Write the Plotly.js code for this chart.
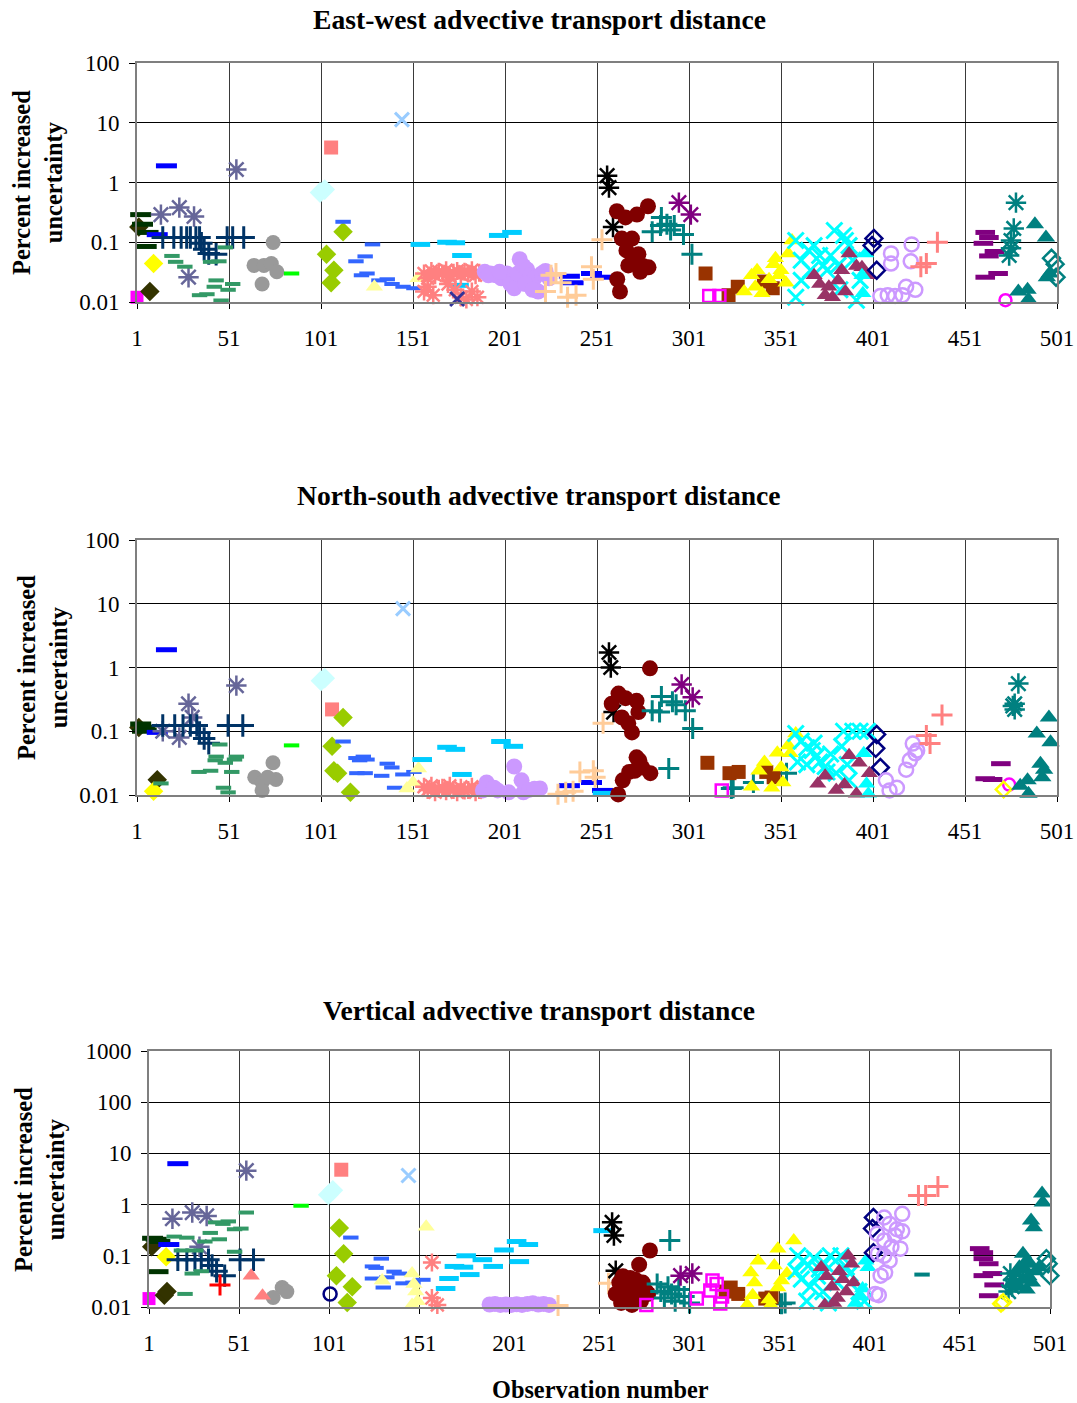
<!DOCTYPE html>
<html>
<head>
<meta charset="utf-8">
<script src="https://cdn.plot.ly/plotly-3.0.1.min.js"></script>
<style>html,body{margin:0;padding:0;background:#fff;}#chart{width:1077px;height:1403px;}</style>
</head>
<body>
<div id="chart"></div>
<script>
// ---------- text ----------
const panelTitles = ['East-west advective transport distance','North-south advective transport distance','Vertical advective transport distance'];
const yTitle = 'Percent increased<br>uncertainty';
const xTitle = 'Observation number';
const xTickVals = [1,51,101,151,201,251,301,351,401,451,501];
const yTickVals12 = [0.01,0.1,1,10,100];
const yTickText12 = ['0.01','0.1','1','10','100'];
const yTickVals3 = [0.01,0.1,1,10,100,1000];
const yTickText3 = ['0.01','0.1','1','10','100','1000'];

// ---------- data: [observation number, percent increased uncertainty] ----------
const magentaSq_ew = [[1,0.012]];
const magentaSq_ns = [];
const magentaSq_vt = [[1,0.0146]];

const oliveDia_ew = [[2,0.18],[8,0.015]];
const oliveDia_ns = [[2,0.115],[12,0.0174]];
const oliveDia_vt = [[2.5,0.15],[9.5,0.017],[11,0.02]];

const dkGreenDash_ew = [[3,0.29],[4,0.2],[7,0.146],[6,0.085]];
const dkGreenDash_ns = [[3,0.13],[5,0.115],[6,0.105],[4,0.1]];
const dkGreenDash_vt = [[3,0.22],[5,0.21],[7,0.19],[6,0.049]];

const yellowDia_ew = [[10,0.044]];
const yellowDia_ns = [[10,0.0114]];
const yellowDia_vt = [[10.5,0.096]];

const blueDash_ew = [[17,1.9],[12,0.134],[236,0.027],[238,0.021],[248,0.03],[253,0.026]];
const blueDash_ns = [[17,1.9],[12,0.096],[236,0.014],[248,0.0157],[254,0.0118]];
const blueDash_vt = [[17,6.3],[12,0.166]];

const slateAst_ew = [[14,0.29],[24,0.38],[32,0.27],[29,0.026],[55,1.65]];
const slateAst_ns = [[55,0.52],[29,0.27],[31,0.165],[24,0.08],[15,0.1]];
const slateAst_vt = [[55,4.6],[14,0.53],[25,0.7],[33,0.6],[29,0.15]];

const navyPlus_ew = [[15,0.12],[21,0.12],[25,0.12],[28,0.12],[30,0.12],[33,0.12],[35,0.12],[36,0.096],[37.5,0.076],[40,0.065],[44,0.063],[50,0.12],[53,0.12],[59,0.12]];
const navyPlus_ns = [[15,0.123],[21.5,0.123],[26,0.123],[30,0.123],[33.5,0.123],[35,0.096],[37.5,0.077],[40,0.065],[50.5,0.123],[58.5,0.123]];
const navyPlus_vt = [[17,0.084],[22,0.084],[26.5,0.084],[30,0.084],[34,0.084],[36,0.065],[38.5,0.05],[43,0.041],[51.5,0.084],[59,0.084]];

const seaGreenDash_ew = [[20,0.059],[22,0.047],[27,0.039],[41,0.047],[45.5,0.048],[49,0.082],[44,0.023],[43,0.018],[53,0.02],[50.5,0.016],[35,0.013],[39,0.0135],[46.7,0.0106]];
const seaGreenDash_ns = [[14,0.0152],[46,0.062],[44,0.04],[43.5,0.035],[49,0.032],[55,0.04],[54,0.036],[34.7,0.023],[41,0.024],[52.5,0.023],[48,0.013],[50.5,0.011]];
const seaGreenDash_vt = [[15,0.237],[22,0.226],[35,0.28],[32,0.19],[38,0.45],[42,0.42],[45,0.47],[48.5,0.33],[52,0.34],[55,0.7],[40,0.21],[19,0.127],[27,0.127],[48.5,0.12],[25,0.045],[30,0.05],[21,0.018]];

const grayCircle_ew = [[75,0.099],[64.6,0.041],[70,0.041],[74,0.044],[77,0.032],[69,0.02]];
const grayCircle_ns = [[74.9,0.032],[65,0.019],[69,0.0157],[76.5,0.0175],[69,0.0118],[72,0.019]];
const grayCircle_vt = [[74.9,0.024],[77.5,0.02],[69.9,0.0153]];

const greenDash_ew = [[85,0.03]];
const greenDash_ns = [[85,0.06]];
const greenDash_vt = [[85.4,0.95]];

const ltCyanDia_ew = [[100.5,0.68],[103,0.76]];
const ltCyanDia_ns = [[101,0.62],[103,0.68]];
const ltCyanDia_vt = [[100.5,1.55],[103,1.9]];

const salmonSq_ew = [[106.5,3.85]];
const salmonSq_ns = [[107,0.22]];
const salmonSq_vt = [[107.7,4.8]];

const ygDia_ew = [[113,0.15],[104,0.063],[108,0.034],[106.5,0.021]];
const ygDia_ns = [[113,0.165],[107,0.058],[108,0.024],[110,0.022],[117,0.011]];
const ygDia_vt = [[106.6,0.35],[109,0.11],[105,0.041],[113.8,0.025],[111,0.0122]];

const royalDash_ew = [[113,0.22],[120,0.048],[125,0.058],[123,0.028],[129,0.092],[126,0.03],[132.5,0.023],[137,0.024],[139.6,0.02],[145.6,0.018],[151.5,0.017]];
const royalDash_ns = [[113,0.069],[120,0.038],[122,0.035],[120.5,0.022],[124,0.04],[126,0.036],[137,0.031],[139.5,0.027],[125,0.022],[134,0.02],[145.5,0.021],[151.5,0.023],[141,0.013]];
const royalDash_vt = [[113,0.227],[129.9,0.088],[125,0.062],[127,0.058],[137,0.049],[140,0.045],[133,0.038],[125,0.036],[131,0.024],[142,0.029],[147.5,0.03],[153,0.034]];

const ltYellowTri_ew = [[130,0.018],[153.7,0.025]];
const ltYellowTri_ns = [[147.7,0.0127],[151,0.0157],[154,0.026]];
const ltYellowTri_vt = [[154.8,0.37],[130.4,0.033],[147,0.045],[148,0.028],[149,0.02],[150,0.013],[147,0.011]];

const ltBlueX_ew = [[145,11.3]];
const ltBlueX_ns = [[145.6,8.4]];
const ltBlueX_vt = [[145,3.7]];

const skyDash_ew = [[155,0.092],[169.5,0.1],[174,0.098],[177.6,0.06],[197.6,0.13],[204.8,0.146],[176,0.019]];
const skyDash_ns = [[156,0.036],[169.5,0.056],[174,0.052],[177.6,0.021],[198.8,0.069],[205.5,0.058],[254,0.0106]];
const skyDash_vt = [[165.6,0.023],[167.5,0.036],[170.5,0.062],[175.5,0.06],[177,0.1],[179,0.043],[186,0.084],[192,0.062],[198,0.13],[205,0.19],[211.5,0.166],[206.5,0.077],[253,0.31]];

const salmonAst_ew = [[157,0.03],[159,0.025],[161,0.033],[163,0.028],[165,0.032],[167,0.03],[169,0.034],[171,0.027],[173,0.031],[175,0.033],[177,0.029],[179,0.032],[181,0.03],[183,0.034],[185,0.028],[187,0.031],[157,0.015],[159,0.018],[162,0.013],[170,0.02],[174,0.016],[177,0.012],[180,0.011],[183,0.015],[186,0.012]];
const salmonAst_ns = [[157,0.0135],[159,0.012],[161,0.014],[163,0.011],[165,0.0125],[167,0.013],[169,0.0115],[171,0.014],[173,0.012],[175,0.011],[177,0.013],[179,0.0118],[181,0.012],[183,0.0135],[185,0.011],[187,0.012],[189,0.0125]];
const salmonAst_vt = [[158,0.074],[158,0.015],[161,0.011]];

const navyX_ew = [[175,0.0112]];
const navyX_ns = [];
const navyX_vt = [];

const lavCircle_ew = [[190,0.032],[193,0.03],[196,0.028],[199,0.025],[202,0.03],[204,0.02],[206,0.017],[208,0.03],[209,0.052],[211,0.04],[213,0.035],[215,0.028],[217,0.025],[219,0.015],[221,0.03],[223,0.033],[225,0.025],[192,0.028],[198,0.032],[212,0.02],[216,0.016]];
const lavCircle_ns = [[191,0.0157],[189,0.0118],[197,0.0118],[206,0.028],[210,0.017],[203,0.011],[211,0.011],[220,0.0127],[195,0.013],[214,0.012],[217,0.0125]];
const lavCircle_vt = [[190,0.0112],[193,0.0115],[196,0.011],[199,0.0112],[202,0.011],[205,0.0113],[208,0.011],[211,0.0115],[214,0.0118],[217,0.0112],[220,0.0115],[223,0.011]];

const peachPlus_ew = [[228.7,0.03],[223,0.015],[231.5,0.021],[239.6,0.013],[248,0.039],[249,0.024],[253.7,0.11],[235,0.012],[226,0.028]];
const peachPlus_ns = [[229.8,0.0103],[234,0.011],[241.7,0.023],[249,0.024],[250,0.019],[254.3,0.133],[238,0.0115]];
const peachPlus_vt = [[228,0.0107],[256,0.029]];

const blackAst_ew = [[256.5,1.3],[257.5,0.82],[259.7,0.18]];
const blackAst_ns = [[257.5,1.72],[258.5,1.0],[260,0.2]];
const blackAst_vt = [[258,0.45],[259,0.25],[260,0.051]];

const dkRedCircle_ew = [[261.8,0.33],[266.5,0.26],[272.7,0.29],[278.7,0.4],[264.5,0.115],[270,0.115],[267,0.073],[273.5,0.063],[268,0.041],[274.5,0.032],[279,0.038],[262,0.024],[263.5,0.015],[276,0.04],[270.5,0.05]];
const dkRedCircle_ns = [[279.8,0.97],[262.7,0.39],[266.5,0.33],[272.5,0.3],[273.5,0.2],[259,0.27],[264.5,0.165],[268,0.133],[270,0.096],[272.5,0.039],[275.5,0.027],[280,0.022],[268.5,0.023],[265,0.017],[262.5,0.0102],[271.5,0.024],[274,0.035]];
const dkRedCircle_vt = [[279,0.127],[273,0.067],[262,0.03],[265,0.022],[268,0.037],[270,0.025],[272,0.016],[275,0.03],[277,0.02],[263,0.012],[266,0.015],[269,0.011],[264,0.04],[271,0.034],[274,0.013],[278,0.018],[260,0.018]];

const tealPlus_ew = [[281,0.15],[286,0.26],[285.5,0.19],[293,0.19],[298,0.135],[302.6,0.063],[289,0.2],[291,0.16]];
const tealPlus_ns = [[286,0.35],[281,0.21],[285,0.2],[292,0.29],[294,0.26],[299,0.21],[303,0.11],[290,0.026],[324,0.0127],[336,0.0157],[354,0.022],[325,0.013]];
const tealPlus_vt = [[290,0.2],[283,0.028],[285,0.02],[287,0.015],[289,0.025],[291,0.018],[293,0.013],[295,0.022],[298,0.016],[301,0.012],[352,0.0116],[354,0.012]];

const purpleAst_ew = [[295.5,0.46],[302,0.29]];
const purpleAst_ns = [[297,0.54],[303,0.34]];
const purpleAst_vt = [[296,0.041],[302.5,0.045]];

const brownSq_ew = [[310,0.03],[322.5,0.013],[327.5,0.018],[341.7,0.022],[346.5,0.017]];
const brownSq_ns = [[311,0.032],[323,0.022],[328,0.023],[343,0.023],[347,0.019]];
const brownSq_vt = [[323.8,0.024],[328,0.018],[343,0.0146],[346.5,0.0153],[321,0.02]];

const magentaOpenSq_ew = [[312,0.0126],[317.5,0.0126]];
const magentaOpenSq_ns = [[318.8,0.0118]];
const magentaOpenSq_vt = [[305,0.0146],[313.7,0.033],[312.5,0.021],[318,0.0117],[319,0.016],[316,0.028],[277,0.011]];

const yellowTri_ew = [[331,0.015],[335,0.028],[338,0.034],[340.7,0.014],[344.5,0.024],[348,0.054],[347,0.043],[351,0.034],[353.7,0.021],[357,0.107],[355,0.065],[337,0.018],[350,0.028]];
const yellowTri_ns = [[359,0.092],[349,0.046],[356,0.045],[351,0.027],[339,0.024],[335,0.0135],[346,0.013],[352,0.0157],[342,0.033],[355,0.06]];
const yellowTri_vt = [[339,0.08],[335,0.047],[337,0.03],[336,0.017],[333,0.011],[350,0.138],[358.8,0.2],[348,0.065],[355,0.045],[350,0.024],[346,0.011],[352,0.033],[345,0.014]];

const cyanX_ew = [[359,0.107],[362,0.05],[366,0.073],[369,0.088],[372,0.06],[374,0.041],[362,0.023],[359,0.012],[380,0.157],[385,0.13],[388,0.088],[378,0.06],[382,0.041],[390,0.05],[394,0.023],[383,0.016],[392,0.0107],[376,0.034],[367,0.034],[386,0.107]];
const cyanX_ns = [[359,0.092],[362,0.07],[365,0.055],[368,0.05],[370,0.04],[372,0.033],[375,0.028],[365,0.03],[378,0.044],[381,0.022],[384,0.058],[387,0.03],[390,0.1],[394,0.1],[398,0.1],[385,0.1],[360,0.033],[388,0.017],[376,0.023],[369,0.065]];
const cyanX_vt = [[361,0.1],[364,0.08],[367,0.065],[370,0.09],[373,0.055],[376,0.07],[379,0.1],[382,0.08],[385,0.1],[388,0.06],[363,0.035],[368,0.025],[372,0.04],[375,0.02],[378,0.012],[366,0.013],[383,0.03],[390,0.045],[395,0.02],[398,0.013],[360,0.05]];

const plumTri_ew = [[369,0.028],[372,0.02],[375,0.013],[379,0.012],[382,0.023],[386,0.015],[388,0.065],[392,0.04],[395,0.038],[398,0.028],[384,0.034],[377,0.018]];
const plumTri_ns = [[388,0.042],[393.5,0.032],[399,0.022],[385.5,0.0146],[392,0.0105],[381,0.012],[371,0.015],[375,0.02]];
const plumTri_vt = [[374,0.06],[377,0.04],[380,0.025],[383,0.015],[376,0.011],[386,0.035],[389,0.1],[391,0.07],[384,0.05],[388,0.02],[381,0.012],[392,0.03]];

const cyanTri_ew = [[397,0.065],[395,0.028],[395.5,0.014]];
const cyanTri_ns = [[396,0.045],[397.5,0.015],[398.5,0.0105]];
const cyanTri_vt = [[398.8,0.08],[397,0.023],[396,0.016],[393,0.012],[400,0.06]];

const navyOpenDia_ew = [[401.5,0.116],[400.5,0.088],[403,0.034]];
const navyOpenDia_ns = [[403,0.089],[402.5,0.054],[405,0.027]];
const navyOpenDia_vt = [[403,0.56],[402.5,0.34],[403,0.115]];

const lavOpenCircle_ew = [[410.8,0.065],[410.8,0.044],[422,0.092],[421.5,0.048],[405,0.0126],[409,0.013],[413,0.0126],[417,0.013],[419,0.018],[424,0.016]];
const lavOpenCircle_ns = [[422.6,0.064],[425,0.05],[421,0.035],[419,0.025],[408,0.017],[410,0.0118],[414,0.013],[424,0.045]];
const lavOpenCircle_vt = [[409,0.56],[419,0.66],[412,0.42],[416,0.33],[419,0.3],[405,0.27],[409,0.2],[418,0.138],[405.5,0.11],[409,0.1],[412,0.08],[409.5,0.047],[407,0.041],[404,0.018],[406,0.017],[415,0.25],[413,0.15]];

const salmonPlus_ew = [[436,0.1],[430,0.044],[427,0.039]];
const salmonPlus_ns = [[438.5,0.18],[430,0.086],[432,0.064]];
const salmonPlus_vt = [[428,1.5],[432,1.5],[438.8,2.25]];

const purpleDash_ew = [[462,0.146],[464,0.12],[461,0.096],[467,0.07],[464,0.059],[462,0.026],[469,0.03]];
const purpleDash_ns = [[470.5,0.031],[462,0.018],[466,0.0175]];
const purpleDash_vt = [[462,0.138],[464,0.115],[464,0.088],[467,0.07],[464,0.041],[469,0.045],[470,0.027],[467,0.0166]];

const tealAst_ew = [[478.7,0.46],[477.5,0.17],[476,0.107],[476,0.079],[475,0.06]];
const tealAst_ns = [[480,0.56],[478,0.27],[478,0.22],[477,0.25]];
const tealAst_vt = [[479,0.045],[481,0.035],[480,0.025],[482,0.03],[478,0.02]];

const magentaOpenCircle_ew = [[473,0.0107]];
const magentaOpenCircle_ns = [[475,0.0146]];
const magentaOpenCircle_vt = [];

const yellowOpenDia_ew = [];
const yellowOpenDia_ns = [[472,0.0122]];
const yellowOpenDia_vt = [[473.8,0.0116],[475,0.0125]];

const tealTri_ew = [[489,0.2],[495,0.12],[495.5,0.026],[480,0.015],[485,0.016],[485.5,0.011],[497,0.03]];
const tealTri_ns = [[496.6,0.165],[490,0.092],[497.5,0.067],[492,0.031],[493,0.019],[481,0.014],[485,0.017],[485.5,0.0105],[494,0.025]];
const tealTri_vt = [[496.6,1.64],[497,1.1],[490.5,0.49],[492,0.36],[486,0.11],[488,0.08],[484,0.06],[490,0.07],[493,0.05],[482,0.045],[486,0.035],[489,0.04],[491,0.03],[484,0.025],[488,0.022],[480,0.03],[495,0.06],[487,0.055]];

const tealOpenDia_ew = [[498,0.054],[500,0.043],[500.5,0.026]];
const tealOpenDia_ns = [];
const tealOpenDia_vt = [[499,0.088],[500,0.07],[501,0.041]];

const redPlus_vt = [[40.4,0.027]];
const salmonTri_vt = [[57.7,0.041],[64,0.0166]];
const navyOpenCircle_vt = [[101.5,0.018]];
const tealDash_vt = [[430,0.043]];

// ---------- series styles (built from the arrays above) ----------
const seriesList = [
  {sym:'square', color:'#FF00FF', size:13, lw:0, d:[magentaSq_ew, magentaSq_ns, magentaSq_vt]},
  {sym:'diamond', color:'#333300', size:15, lw:0, d:[oliveDia_ew, oliveDia_ns, oliveDia_vt]},
  {sym:'line-ew', color:'#003300', size:15, lw:5, d:[dkGreenDash_ew, dkGreenDash_ns, dkGreenDash_vt]},
  {sym:'diamond', color:'#FFFF00', size:15, lw:0, d:[yellowDia_ew, yellowDia_ns, yellowDia_vt]},
  {sym:'line-ew', color:'#0000FF', size:15, lw:5, d:[blueDash_ew, blueDash_ns, blueDash_vt]},
  {sym:'asterisk', color:'#666699', size:17, lw:2.5, d:[slateAst_ew, slateAst_ns, slateAst_vt]},
  {sym:'cross-thin', color:'#003366', size:16, lw:3, d:[navyPlus_ew, navyPlus_ns, navyPlus_vt]},
  {sym:'line-ew', color:'#339966', size:11, lw:4, d:[seaGreenDash_ew, seaGreenDash_ns, seaGreenDash_vt]},
  {sym:'circle', color:'#999999', size:15, lw:0, d:[grayCircle_ew, grayCircle_ns, grayCircle_vt]},
  {sym:'line-ew', color:'#00FF00', size:11, lw:4, d:[greenDash_ew, greenDash_ns, greenDash_vt]},
  {sym:'diamond', color:'#CCFFFF', size:16, lw:0, d:[ltCyanDia_ew, ltCyanDia_ns, ltCyanDia_vt]},
  {sym:'square', color:'#FF8080', size:14, lw:0, d:[salmonSq_ew, salmonSq_ns, salmonSq_vt]},
  {sym:'diamond', color:'#99CC00', size:15, lw:0, d:[ygDia_ew, ygDia_ns, ygDia_vt]},
  {sym:'line-ew', color:'#3366FF', size:11, lw:4, d:[royalDash_ew, royalDash_ns, royalDash_vt]},
  {sym:'triangle-up', color:'#FFFF99', size:15, lw:0, d:[ltYellowTri_ew, ltYellowTri_ns, ltYellowTri_vt]},
  {sym:'x-thin', color:'#99CCFF', size:14, lw:3, d:[ltBlueX_ew, ltBlueX_ns, ltBlueX_vt]},
  {sym:'line-ew', color:'#00CCFF', size:14, lw:5, d:[skyDash_ew, skyDash_ns, skyDash_vt]},
  {sym:'asterisk', color:'#FF8080', size:15, lw:2.5, d:[salmonAst_ew, salmonAst_ns, salmonAst_vt]},
  {sym:'x-thin', color:'#333399', size:14, lw:3, d:[navyX_ew, navyX_ns, navyX_vt]},
  {sym:'circle', color:'#CC99FF', size:16, lw:0, d:[lavCircle_ew, lavCircle_ns, lavCircle_vt]},
  {sym:'cross-thin', color:'#FFCC99', size:15, lw:3, d:[peachPlus_ew, peachPlus_ns, peachPlus_vt]},
  {sym:'asterisk', color:'#000000', size:17, lw:2.5, d:[blackAst_ew, blackAst_ns, blackAst_vt]},
  {sym:'circle', color:'#800000', size:16, lw:0, d:[dkRedCircle_ew, dkRedCircle_ns, dkRedCircle_vt]},
  {sym:'cross-thin', color:'#008080', size:15, lw:3, d:[tealPlus_ew, tealPlus_ns, tealPlus_vt]},
  {sym:'asterisk', color:'#800080', size:17, lw:2.5, d:[purpleAst_ew, purpleAst_ns, purpleAst_vt]},
  {sym:'square', color:'#993300', size:14, lw:0, d:[brownSq_ew, brownSq_ns, brownSq_vt]},
  {sym:'square-open', color:'#FF00FF', size:12, lw:2.5, d:[magentaOpenSq_ew, magentaOpenSq_ns, magentaOpenSq_vt]},
  {sym:'triangle-up', color:'#FFFF00', size:15, lw:0, d:[yellowTri_ew, yellowTri_ns, yellowTri_vt]},
  {sym:'x-thin', color:'#00FFFF', size:16, lw:3, d:[cyanX_ew, cyanX_ns, cyanX_vt]},
  {sym:'triangle-up', color:'#993366', size:15, lw:0, d:[plumTri_ew, plumTri_ns, plumTri_vt]},
  {sym:'triangle-up', color:'#00FFFF', size:15, lw:0, d:[cyanTri_ew, cyanTri_ns, cyanTri_vt]},
  {sym:'diamond-open', color:'#000080', size:13, lw:2.5, d:[navyOpenDia_ew, navyOpenDia_ns, navyOpenDia_vt]},
  {sym:'circle-open', color:'#CC99FF', size:14, lw:2.5, d:[lavOpenCircle_ew, lavOpenCircle_ns, lavOpenCircle_vt]},
  {sym:'cross-thin', color:'#FF8080', size:15, lw:3, d:[salmonPlus_ew, salmonPlus_ns, salmonPlus_vt]},
  {sym:'line-ew', color:'#800080', size:14, lw:5, d:[purpleDash_ew, purpleDash_ns, purpleDash_vt]},
  {sym:'asterisk', color:'#008080', size:17, lw:2.5, d:[tealAst_ew, tealAst_ns, tealAst_vt]},
  {sym:'circle-open', color:'#FF00FF', size:12, lw:2.5, d:[magentaOpenCircle_ew, magentaOpenCircle_ns, magentaOpenCircle_vt]},
  {sym:'diamond-open', color:'#FFFF00', size:12, lw:2.5, d:[yellowOpenDia_ew, yellowOpenDia_ns, yellowOpenDia_vt]},
  {sym:'triangle-up', color:'#008080', size:16, lw:0, d:[tealTri_ew, tealTri_ns, tealTri_vt]},
  {sym:'diamond-open', color:'#008080', size:13, lw:2.5, d:[tealOpenDia_ew, tealOpenDia_ns, tealOpenDia_vt]},
  {sym:'cross-thin', color:'#FF0000', size:15, lw:3, d:[[], [], redPlus_vt]},
  {sym:'triangle-up', color:'#FF8080', size:15, lw:0, d:[[], [], salmonTri_vt]},
  {sym:'circle-open', color:'#000080', size:13, lw:2.5, d:[[], [], navyOpenCircle_vt]},
  {sym:'line-ew', color:'#008080', size:11, lw:4, d:[[], [], tealDash_vt]}
];

// ---------- traces ----------
const axisIds = [['x','y'],['x2','y2'],['x3','y3']];
const traces = [];
seriesList.forEach(s => {
  s.d.forEach((pts, p) => {
    if (!pts.length) return;
    traces.push({
      type:'scatter', mode:'markers',
      x: pts.map(v => v[0]), y: pts.map(v => v[1]),
      xaxis: axisIds[p][0], yaxis: axisIds[p][1],
      cliponaxis: false, showlegend: false, hoverinfo: 'x+y',
      marker: {symbol: s.sym, color: s.color, size: s.size, line: {width: s.lw, color: s.color}}
    });
  });
});

// ---------- layout ----------
const W = 1077, H = 1403;
const FONT = 'Liberation Serif, Times New Roman, serif';
const px2x = v => v / W;
const px2y = v => 1 - v / H;
function xAxis(left, right, anchor) {
  return {
    domain: [px2x(left), px2x(right)], anchor: anchor, range: [1, 501],
    tickmode: 'array', tickvals: xTickVals, ticktext: xTickVals.map(String),
    showgrid: true, gridcolor: '#3a3a3a', gridwidth: 1, zeroline: false,
    showline: true, linecolor: '#7f7f7f', linewidth: 2, mirror: true,
    ticks: 'outside', ticklen: 5, tickcolor: '#000', ticklabelstandoff: 9,
    tickfont: {family: FONT, size: 23, color: '#000'}, fixedrange: true
  };
}
function yAxis(top, bottom, anchor, rng, vals, txt) {
  return {
    domain: [px2y(bottom), px2y(top)], anchor: anchor, type: 'log', range: rng,
    tickmode: 'array', tickvals: vals, ticktext: txt,
    showgrid: true, gridcolor: '#000', gridwidth: 1, zeroline: false,
    showline: true, linecolor: '#7f7f7f', linewidth: 2, mirror: true,
    ticks: 'outside', ticklen: 6, tickcolor: '#000', ticklabelstandoff: 5,
    tickfont: {family: FONT, size: 23, color: '#000'}, fixedrange: true
  };
}
function ann(text, xpx, ypx, size, angle) {
  return {text: text, xref: 'paper', yref: 'paper', x: px2x(xpx), y: px2y(ypx),
    xanchor: 'center', yanchor: 'middle', showarrow: false, textangle: angle || 0,
    font: {family: FONT, size: size, color: '#000'}};
}
const layout = {
  width: W, height: H, margin: {l: 0, r: 0, t: 0, b: 0},
  paper_bgcolor: '#fff', plot_bgcolor: '#fff', showlegend: false,
  font: {family: FONT, color: '#000'},
  xaxis: xAxis(137, 1057, 'y'),
  yaxis: yAxis(63, 302, 'x', [-2, 2], yTickVals12, yTickText12),
  xaxis2: xAxis(137, 1057, 'y2'),
  yaxis2: yAxis(540, 795, 'x2', [-2, 2], yTickVals12, yTickText12),
  xaxis3: xAxis(149, 1050, 'y3'),
  yaxis3: yAxis(1051, 1307, 'x3', [-2, 3], yTickVals3, yTickText3),
  annotations: [
    ann('<b>' + panelTitles[0] + '</b>', 539, 20, 27.6),
    ann('<b>' + panelTitles[1] + '</b>', 539, 495, 27.6),
    ann('<b>' + panelTitles[2] + '</b>', 539, 1010, 27.6),
    ann('<b>' + yTitle + '</b>', 37, 183, 24.5, -90),
    ann('<b>' + yTitle + '</b>', 42, 668, 24.5, -90),
    ann('<b>' + yTitle + '</b>', 39, 1180, 24.5, -90),
    ann('<b>' + xTitle + '</b>', 600, 1389, 24.3)
  ]
};
Plotly.newPlot('chart', traces, layout, {staticPlot: true, displayModeBar: false});
</script>
</body>
</html>
